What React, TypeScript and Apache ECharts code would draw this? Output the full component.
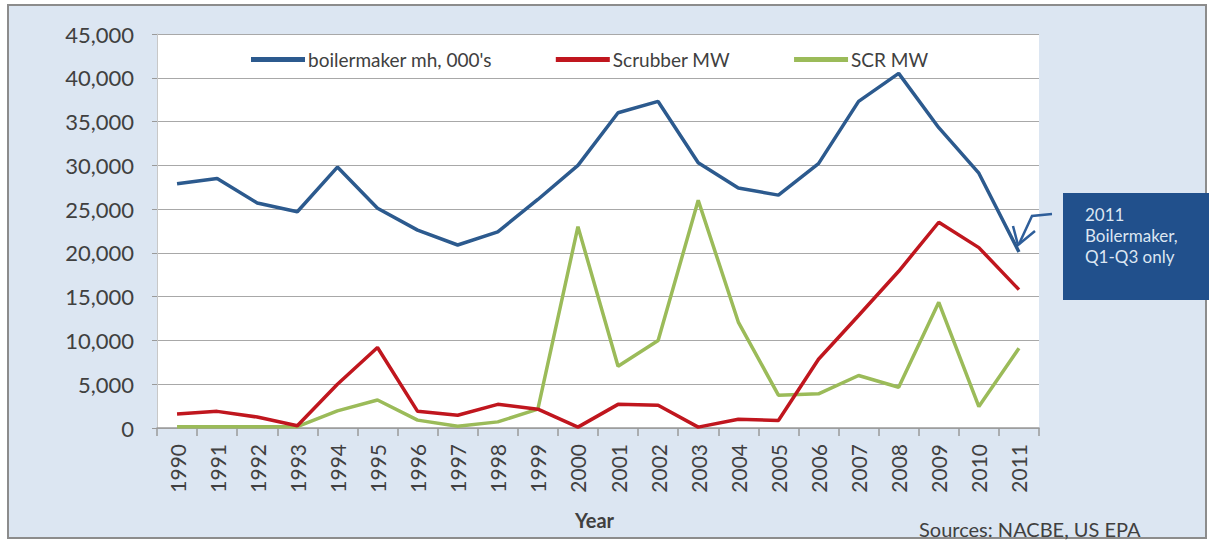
import React, { useEffect, useRef } from "react";
import * as echarts from "echarts";

const years = ["1990","1991","1992","1993","1994","1995","1996","1997","1998","1999","2000","2001","2002","2003","2004","2005","2006","2007","2008","2009","2010","2011"];
const boilermaker = [27900, 28500, 25700, 24700, 29800, 25100, 22600, 20900, 22400, 26100, 30000, 36000, 37300, 30300, 27400, 26600, 30200, 37300, 40500, 34300, 29100, 20100];
const scrubber = [1600, 1900, 1250, 250, 5000, 9200, 1900, 1450, 2700, 2150, 100, 2700, 2600, 100, 1000, 850, 7850, 12850, 17900, 23500, 20600, 15800];
const scr = [150, 150, 150, 150, 1950, 3200, 900, 200, 700, 2150, 23000, 7050, 10000, 26000, 12100, 3750, 3900, 6000, 4650, 14350, 2450, 9100];
const seriesNames = ["boilermaker mh, 000's", "Scrubber MW", "SCR MW"];
const calloutLines = ["2011", "Boilermaker,", "Q1-Q3 only"];

const FONT = "Lato, 'Open Sans', sans-serif";

export default function App() {
  const ref = useRef<HTMLDivElement>(null);
  useEffect(() => {
    document.body.style.margin = "0";
    const chart = echarts.init(ref.current!, null, { renderer: "svg" });
    const colors = ["#2c5a8e", "#c0161e", "#9bbb59"];
    chart.setOption({
      animation: false,
      backgroundColor: "transparent",
      textStyle: { fontFamily: FONT },
      color: colors,
      grid: { left: 157, right: 170, top: 34, bottom: 114, show: true, backgroundColor: "#ffffff", borderWidth: 0 },
      legend: {
        left: 246,
        top: 45,
        itemWidth: 54,
        itemHeight: 5,
        itemGap: 64,
        icon: "rect",
        textStyle: { fontSize: 19, color: "#404040", fontFamily: FONT, padding: [0, 0, 0, -2] },
        data: seriesNames,
      },
      xAxis: {
        type: "category",
        data: years,
        boundaryGap: true,
        axisLine: { show: true, lineStyle: { color: "#9a9a9a", width: 1.5 } },
        axisTick: { show: true, length: 8, alignWithLabel: false, lineStyle: { color: "#9a9a9a", width: 1.5 } },
        axisLabel: { rotate: 90, margin: 16, fontSize: 21, color: "#404040", fontFamily: FONT },
      },
      yAxis: {
        type: "value",
        min: 0,
        max: 45000,
        interval: 5000,
        axisLine: { show: true, lineStyle: { color: "#c8c8c8", width: 1 } },
        axisTick: { show: true, length: 5, lineStyle: { color: "#9a9a9a" } },
        splitLine: { show: true, lineStyle: { color: "#a8a8a8", width: 1.2 } },
        axisLabel: {
          margin: 23,
          fontSize: 22,
          color: "#404040",
          fontFamily: FONT,
          formatter: (v: number) => v.toLocaleString("en-US"),
        },
      },
      series: [
        { name: seriesNames[0], type: "line", data: boilermaker, symbol: "none", lineStyle: { width: 3.5, color: colors[0] }, z: 4 },
        { name: seriesNames[1], type: "line", data: scrubber, symbol: "none", lineStyle: { width: 3.5, color: colors[1] }, z: 3 },
        { name: seriesNames[2], type: "line", data: scr, symbol: "none", lineStyle: { width: 3.5, color: colors[2] }, z: 2 },
      ],
      graphic: [
        {
          type: "text",
          left: 575,
          top: 510,
          style: { text: "Year", fontSize: 20, fontWeight: "bold", fill: "#404040", fontFamily: FONT },
        },
        {
          type: "text",
          left: 919,
          top: 519,
          style: { text: "Sources: NACBE, US EPA", fontSize: 20, fill: "#404040", fontFamily: FONT },
        },
        {
          type: "rect",
          shape: { x: 1063, y: 193, width: 146, height: 107 },
          style: { fill: "#21508c" },
        },
        {
          type: "text",
          x: 1085,
          y: 204,
          style: { text: calloutLines.join("\n"), fontSize: 17, lineHeight: 21, fill: "#dce6f2", fontFamily: FONT },
        },
        {
          type: "polyline",
          shape: { points: [[1052, 214], [1032, 216], [1019, 244]] },
          style: { stroke: "#2e5e9a", lineWidth: 2.5, fill: "none" },
        },
        {
          type: "polyline",
          shape: { points: [[1013, 226], [1018, 245], [1035, 231]] },
          style: { stroke: "#2e5e9a", lineWidth: 2.5, fill: "none" },
        },
      ],
    });
    return () => chart.dispose();
  }, []);
  return (
    <div style={{ position: "relative", width: 1209, height: 542, background: "#ffffff", overflow: "hidden" }}>
      <div
        style={{
          position: "absolute",
          left: 7,
          top: 4,
          width: 1200,
          height: 535,
          boxSizing: "border-box",
          background: "#dce6f2",
          border: "2px solid #8c8c8c",
        }}
      />
      <div ref={ref} style={{ position: "absolute", left: 0, top: 0, width: 1209, height: 542 }} />
    </div>
  );
}
